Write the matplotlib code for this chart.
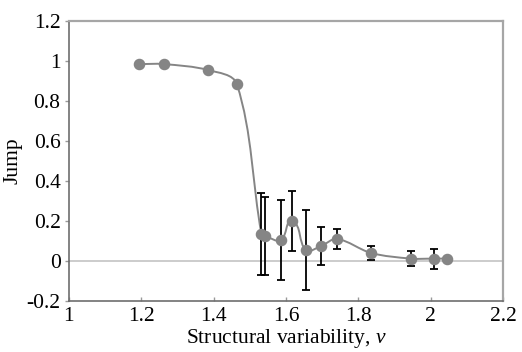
import matplotlib
matplotlib.use("Agg")
import matplotlib.pyplot as plt
import numpy as np
from matplotlib.path import Path
from matplotlib.patches import PathPatch
from matplotlib.ticker import FuncFormatter

plt.rcParams['font.family'] = ['Liberation Serif', 'DejaVu Serif']
plt.rcParams['mathtext.fontset'] = 'custom'
plt.rcParams['mathtext.it'] = 'Liberation Serif:italic'
plt.rcParams['mathtext.rm'] = 'Liberation Serif'
plt.rcParams['axes.unicode_minus'] = False

# data
variability = [1.194, 1.262, 1.385, 1.464, 1.532, 1.542, 1.586, 1.617,
               1.655, 1.697, 1.741, 1.835, 1.945, 2.009, 2.045]
jump = [0.985, 0.985, 0.955, 0.885, 0.135, 0.125, 0.105, 0.200,
        0.055, 0.075, 0.110, 0.040, 0.012, 0.012, 0.012]
jump_err = [0.005, 0.005, 0.008, 0.01, 0.205, 0.195, 0.200, 0.150,
            0.200, 0.095, 0.048, 0.035, 0.038, 0.050, 0.008]

x_ticks = [1, 1.2, 1.4, 1.6, 1.8, 2, 2.2]
y_ticks = [-0.2, 0, 0.2, 0.4, 0.6, 0.8, 1, 1.2]

grey = '#858585'

fig = plt.figure(figsize=(5.22, 3.52), dpi=100)
ax = fig.add_axes([0.132, 0.145, 0.832, 0.795])
ax.set_xlim(1, 2.2)
ax.set_ylim(-0.2, 1.2)

# smoothed connecting line: bezier segments built in display space so the
# tangents don't overshoot next to the long drop
pts = ax.transData.transform(np.column_stack([variability, jump]))
n = len(pts)


def tangent(i):
    d = pts[min(i + 1, n - 1)] - pts[max(i - 1, 0)]
    return d / np.hypot(*d)


verts = [pts[0]]
codes = [Path.MOVETO]
for i in range(n - 1):
    seg = np.hypot(*(pts[i + 1] - pts[i]))
    c1 = pts[i] + tangent(i) * seg / 3
    c2 = pts[i + 1] - tangent(i + 1) * seg / 3
    verts += [c1, c2, pts[i + 1]]
    codes += [Path.CURVE4] * 3
verts = ax.transData.inverted().transform(np.array(verts))
ax.add_patch(PathPatch(Path(verts, codes), fill=False, edgecolor=grey,
                       lw=1.4, zorder=2))

ax.axhline(0, color='#c4c4c4', lw=1.2, zorder=1)

ax.errorbar(variability, jump, yerr=jump_err, fmt='none', ecolor='black',
            elinewidth=1.3, capsize=3.2, capthick=1.3, zorder=3)
ax.plot(variability, jump, 'o', color=grey, markersize=7.3, zorder=4)

ax.set_xticks(x_ticks)
ax.set_yticks(y_ticks)
fmt = FuncFormatter(lambda v, p: '%g' % round(v, 2))
ax.xaxis.set_major_formatter(fmt)
ax.yaxis.set_major_formatter(fmt)
ax.tick_params(axis='x', direction='in', length=3, width=1, color='#999999',
               labelsize=15.5, pad=4)
ax.tick_params(axis='y', direction='out', length=3, width=1, color='#999999',
               labelsize=15.5, pad=3)

for side in ['left', 'bottom']:
    ax.spines[side].set_color('#6e6e6e')
    ax.spines[side].set_linewidth(1.2)
for side in ['top', 'right']:
    ax.spines[side].set_color('#a6a6a6')
    ax.spines[side].set_linewidth(1.6)

ax.set_xlabel('Structural variability, $\\it{v}$', fontsize=15.5, labelpad=1)
ax.set_ylabel('Jump', fontsize=15.5, labelpad=3)

fig.savefig('out.png', dpi=100)
